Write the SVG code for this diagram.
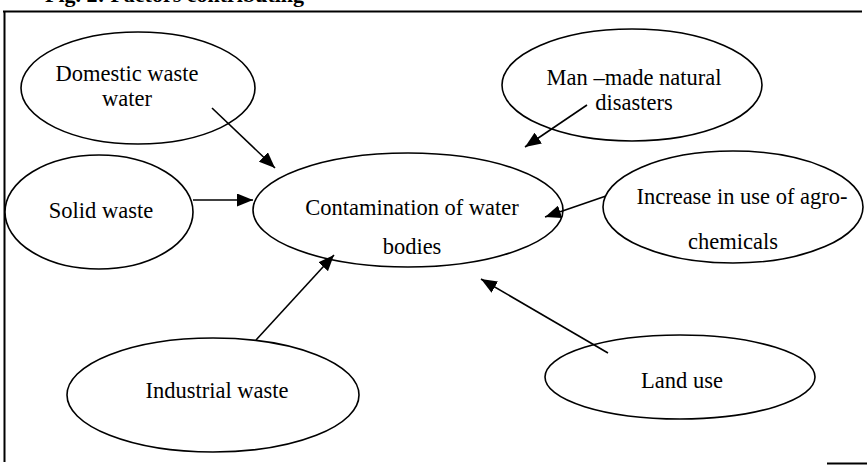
<svg xmlns="http://www.w3.org/2000/svg" width="867" height="465" viewBox="0 0 867 465">
  <style>
    .node ellipse { fill: #ffffff; stroke: #000000; stroke-width: 1.6; }
    .node text { font-family: "Liberation Serif", "Times New Roman", serif; font-size: 22.5px; fill: #000000; text-anchor: middle; }
    .frame { stroke: #000000; stroke-width: 2; fill: none; }
    .title { font-family: "Liberation Serif", "Times New Roman", serif; font-size: 22px; font-weight: bold; fill: #000000; }
    #connectors line { stroke: #000000; stroke-width: 1.6; marker-end: url(#arrow); }
  </style>
  <defs>
    <marker id="arrow" markerUnits="userSpaceOnUse" markerWidth="17" markerHeight="13" refX="16" refY="6.5" orient="auto">
      <path d="M0,0 L16,6.5 L0,13 z" fill="#000000"/>
    </marker>
  </defs>
  <rect width="867" height="465" fill="#ffffff"/>
  <text class="title" x="45" y="2">Fig. 2: Factors contributing</text>
  <g id="frame">
    <line class="frame" x1="3" y1="11.5" x2="862" y2="11.5"/>
    <line class="frame" x1="4.5" y1="11" x2="4.5" y2="462"/>
    <line class="frame" x1="827" y1="463.5" x2="867" y2="463.5"/>
  </g>
  <g id="node-domestic" class="node">
    <ellipse cx="138" cy="88" rx="117" ry="56"/>
    <text x="127" y="81">Domestic waste</text>
    <text x="127" y="106">water</text>
  </g>
  <g id="node-manmade" class="node">
    <ellipse cx="632" cy="85" rx="130" ry="56"/>
    <text x="634" y="85">Man –made natural</text>
    <text x="634" y="110">disasters</text>
  </g>
  <g id="node-solid" class="node">
    <ellipse cx="99" cy="212" rx="94" ry="57"/>
    <text x="101" y="218">Solid waste</text>
  </g>
  <g id="node-contamination" class="node">
    <ellipse cx="408" cy="210" rx="155" ry="57"/>
    <text x="412" y="215">Contamination of water</text>
    <text x="412" y="254">bodies</text>
  </g>
  <g id="node-agro" class="node">
    <ellipse cx="733" cy="207" rx="130" ry="56"/>
    <text x="742" y="204">Increase in use of agro-</text>
    <text x="733" y="249">chemicals</text>
  </g>
  <g id="node-industrial" class="node">
    <ellipse cx="213" cy="395" rx="146" ry="57"/>
    <text x="217" y="398">Industrial waste</text>
  </g>
  <g id="node-landuse" class="node">
    <ellipse cx="680" cy="377" rx="135" ry="42"/>
    <text x="682" y="388">Land use</text>
  </g>
  <g id="connectors">
    <line x1="212" y1="108" x2="275" y2="168"/>
    <line x1="193" y1="200" x2="253" y2="200"/>
    <line x1="587" y1="105" x2="525" y2="147"/>
    <line x1="606" y1="196" x2="545" y2="217"/>
    <line x1="256" y1="340" x2="334" y2="255"/>
    <line x1="608" y1="353" x2="481" y2="279"/>
  </g>
</svg>
